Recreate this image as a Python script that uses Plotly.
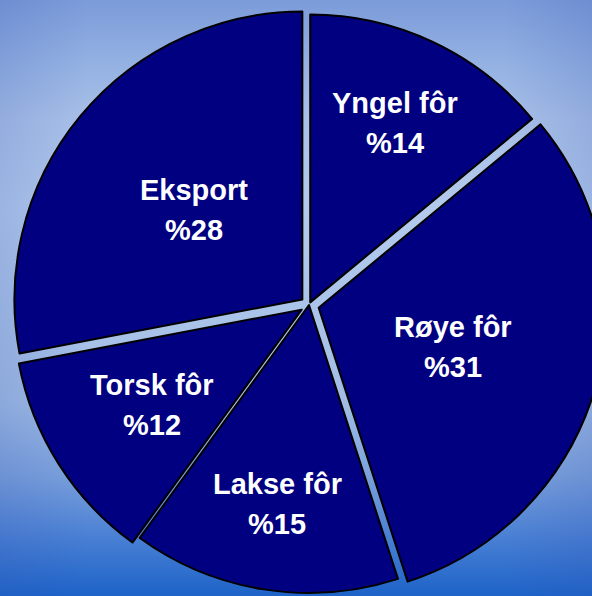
import base64
import math
import plotly.graph_objects as go

labels = ["Yngel fôr", "Røye fôr", "Lakse fôr", "Torsk fôr", "Eksport"]
values = [14, 31, 15, 12, 28]
pulls = [0.01, 0.035, 0.0, 0.03, 0.03]
value_texts = [f"%{v}" for v in values]

# label placement: fraction of the radius along each slice's mid-angle
label_radius = [0.70, 0.52, 0.70, 0.645, 0.52]

# visible window and (slightly larger) figure canvas
VW, VH = 592, 596
W, H = 618, 610
BOX = 596                       # pie domain box size (px)
CX, CY = W / 2, 305             # pie centre (px)
R = BOX / (2 + 2 * max(pulls))  # plotly's pie radius

svg = f"""<svg xmlns='http://www.w3.org/2000/svg' width='{VW}' height='{VH}' viewBox='0 0 {VW} {VH}' preserveAspectRatio='none'>
<defs>
<linearGradient id='v' x1='0' y1='0' x2='0' y2='1'>
<stop offset='0' stop-color='#7b9bd9'/>
<stop offset='0.1' stop-color='#93b0e2'/>
<stop offset='0.2' stop-color='#a9c1e8'/>
<stop offset='0.35' stop-color='#b3caed'/>
<stop offset='0.6' stop-color='#a6c0e7'/>
<stop offset='0.68' stop-color='#a0bce5'/>
<stop offset='0.8' stop-color='#7aa0dc'/>
<stop offset='0.9' stop-color='#4a80d4'/>
<stop offset='1' stop-color='#1d63c8'/>
</linearGradient>
<linearGradient id='h' x1='0' y1='0' x2='1' y2='0'>
<stop offset='0' stop-color='#3050b0' stop-opacity='0.18'/>
<stop offset='0.15' stop-color='#3050b0' stop-opacity='0'/>
<stop offset='0.85' stop-color='#3050b0' stop-opacity='0'/>
<stop offset='1' stop-color='#3050b0' stop-opacity='0.18'/>
</linearGradient>
</defs>
<rect x='0' y='0' width='{VW}' height='{VH}' fill='url(#v)'/>
<rect x='0' y='0' width='{VW}' height='{VH}' fill='url(#h)'/>
</svg>"""
bg_uri = "data:image/svg+xml;base64," + base64.b64encode(svg.encode()).decode()

fig = go.Figure(
    go.Pie(
        labels=labels,
        values=values,
        textinfo="none",
        sort=False,
        direction="clockwise",
        rotation=0,
        pull=pulls,
        marker=dict(colors=["#000080"] * len(labels), line=dict(color="black", width=2)),
        hoverinfo="label+percent",
        showlegend=False,
        domain=dict(x=[(CX - BOX / 2) / W, (CX + BOX / 2) / W],
                    y=[1 - (CY + BOX / 2) / H, 1 - (CY - BOX / 2) / H]),
    )
)

# slice labels, placed along each slice's mid-angle (computed from the values)
font = dict(family="Liberation Sans, Arial, sans-serif", size=29, color="white", weight="bold")
total = sum(values)
cum = 0
annotations = []
for lab, vtxt, v, f in zip(labels, value_texts, values, label_radius):
    mid = 2 * math.pi * (cum + v / 2) / total
    cum += v
    px = CX + f * R * math.sin(mid)
    py = CY - f * R * math.cos(mid)
    for txt, shift in ((lab, 20), (vtxt, -20)):
        annotations.append(dict(x=px / W, y=1 - py / H, xref="paper", yref="paper",
                                text=txt, showarrow=False, font=font, yshift=shift,
                                xanchor="center", yanchor="middle"))

fig.update_layout(
    width=W,
    height=H,
    margin=dict(l=0, r=0, t=0, b=0),
    paper_bgcolor="#1d63c8",
    plot_bgcolor="rgba(0,0,0,0)",
    images=[dict(source=bg_uri, xref="paper", yref="paper", x=0, y=1, sizex=VW / W, sizey=VH / H,
                 sizing="stretch", layer="below", xanchor="left", yanchor="top")],
    annotations=annotations,
)

fig.write_html(
    "out.html",
    config={"displayModeBar": False},
    post_script="document.body.style.margin='0';document.body.style.overflow='hidden';",
)
